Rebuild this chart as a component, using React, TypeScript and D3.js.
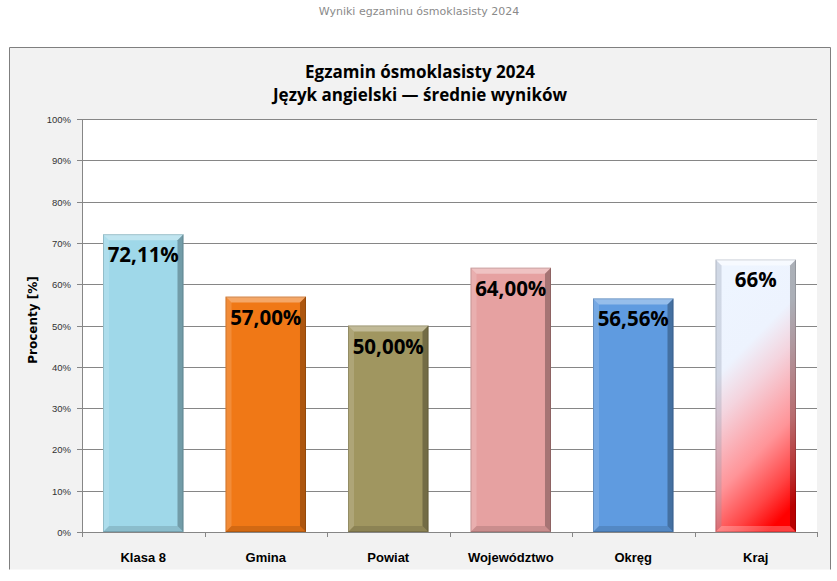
import React from "react";
import * as d3 from "d3";

const categories = ["Klasa 8", "Gmina", "Powiat", "Województwo", "Okręg", "Kraj"];
const values = [72.11, 57.0, 50.0, 64.0, 56.56, 66];
const valueLabels = ["72,11%", "57,00%", "50,00%", "64,00%", "56,56%", "66%"];
const barColors = ["#9fd8e9", "#f07816", "#a09660", "#e6a1a1", "#5f9be0", "gradient"];
const yTicks = [0, 10, 20, 30, 40, 50, 60, 70, 80, 90, 100];

const W = 837;
const H = 581;
const plot = { left: 82, right: 817, top: 119, bottom: 532 };

export default function App() {
  const x = d3
    .scaleBand<string>()
    .domain(categories)
    .range([plot.left, plot.right])
    .paddingInner(0.343)
    .paddingOuter(0.1715);
  const y = d3.scaleLinear().domain([0, 100]).range([plot.bottom, plot.top]);
  const step = x.step();
  const b = 6;

  return (
    <svg
      width={W}
      height={H}
      style={{ position: "absolute", left: 0, top: 0, background: "#fff" }}
    >
      <defs>
        <linearGradient id="krajGrad" x1="0.35" y1="0" x2="0.65" y2="1">
          <stop offset="0" stopColor="#eef5ff" />
          <stop offset="0.3" stopColor="#edf3fe" />
          <stop offset="0.45" stopColor="#f4d4de" />
          <stop offset="0.7" stopColor="#ff9498" />
          <stop offset="0.88" stopColor="#ff4444" />
          <stop offset="1" stopColor="#ff0000" />
        </linearGradient>
      </defs>
      <text
        x={419}
        y={15}
        textAnchor="middle"
        fontFamily="'DejaVu Sans', sans-serif"
        fontSize={11}
        fill="#8a8a8a"
      >
        Wyniki egzaminu ósmoklasisty 2024
      </text>

      {/* chart frame */}
      <rect x={9.5} y={47.5} width={821} height={522} fill="#f2f2f2" />
      <path d="M9.5,569.5 V47.5 H830.5 V569.5" fill="none" stroke="#7f7f7f" strokeWidth={1} />

      <text
        x={420}
        y={78}
        textAnchor="middle"
        fontFamily="'Open Sans', sans-serif"
        fontWeight={700}
        fontSize={17}
        fill="#000"
      >
        Egzamin ósmoklasisty 2024
      </text>
      <text
        x={420}
        y={101}
        textAnchor="middle"
        fontFamily="'Open Sans', sans-serif"
        fontWeight={700}
        fontSize={17}
        fill="#000"
      >
        Język angielski — średnie wyników
      </text>

      {/* plot area */}
      <rect
        x={plot.left}
        y={plot.top}
        width={plot.right - plot.left}
        height={plot.bottom - plot.top}
        fill="#fff"
      />
      {yTicks.map((t) => (
        <g key={t}>
          <line
            x1={plot.left - 5}
            x2={plot.right}
            y1={Math.round(y(t)) + 0.5}
            y2={Math.round(y(t)) + 0.5}
            stroke="#868686"
          />
          <text
            x={71}
            y={Math.round(y(t)) + 3.5}
            textAnchor="end"
            fontFamily="'Liberation Sans', sans-serif"
            fontSize={9.5}
            fill="#333"
          >
            {t}%
          </text>
        </g>
      ))}
      <line
        x1={plot.left + 0.5}
        x2={plot.left + 0.5}
        y1={plot.top}
        y2={plot.bottom + 5}
        stroke="#868686"
      />
      {categories.map((c, i) => {
        const bx = plot.left + step * (i + 1);
        return (
          <line
            key={"t" + c}
            x1={Math.round(bx) + 0.5}
            x2={Math.round(bx) + 0.5}
            y1={plot.bottom}
            y2={plot.bottom + 5}
            stroke="#868686"
          />
        );
      })}

      {/* bars */}
      {categories.map((c, i) => {
        const bx = x(c)!;
        const bw = x.bandwidth();
        const by = y(values[i]);
        const bh = plot.bottom - by;
        const fill = barColors[i] === "gradient" ? "url(#krajGrad)" : barColors[i];
        const isGrad = barColors[i] === "gradient";
        return (
          <g key={c}>
            <rect x={bx} y={by} width={bw} height={bh} fill={fill} />
            <polygon
              points={`${bx},${by} ${bx + bw},${by} ${bx + bw - b},${by + b} ${bx + b},${by + b}`}
              fill="#fff"
              opacity={isGrad ? 0.5 : 0.35}
            />
            <polygon
              points={`${bx},${by} ${bx + b},${by + b} ${bx + b},${by + bh - b} ${bx},${by + bh}`}
              fill={isGrad ? "#8a96a8" : "#fff"}
              opacity={isGrad ? 0.3 : 0.15}
            />
            <polygon
              points={`${bx + bw},${by} ${bx + bw},${by + bh} ${bx + bw - b},${by + bh - b} ${bx + bw - b},${by + b}`}
              fill="#000"
              opacity={0.28}
            />
            <polygon
              points={`${bx},${by + bh} ${bx + bw},${by + bh} ${bx + bw - b},${by + bh - b} ${bx + b},${by + bh - b}`}
              fill={isGrad ? "#fff" : "#000"}
              opacity={isGrad ? 0.25 : 0.12}
            />
            <rect
              x={bx + 0.5}
              y={by + 0.5}
              width={bw - 1}
              height={bh - 1}
              fill="none"
              stroke="#000"
              strokeOpacity={0.15}
            />
            <text
              x={bx + bw / 2}
              y={by + 28}
              textAnchor="middle"
              fontFamily="'Open Sans', sans-serif"
              fontWeight={700}
              fontSize={20.5}
              fill="#000"
            >
              {valueLabels[i]}
            </text>
            <text
              x={bx + bw / 2}
              y={plot.bottom + 30}
              textAnchor="middle"
              fontFamily="'Liberation Sans', sans-serif"
              fontWeight={700}
              fontSize={13}
              fill="#000"
            >
              {c}
            </text>
          </g>
        );
      })}

      <text
        transform={`translate(37, 320) rotate(-90)`}
        textAnchor="middle"
        fontFamily="'DejaVu Sans', sans-serif"
        fontWeight={700}
        fontSize={12}
        fill="#000"
      >
        Procenty [%]
      </text>
    </svg>
  );
}
